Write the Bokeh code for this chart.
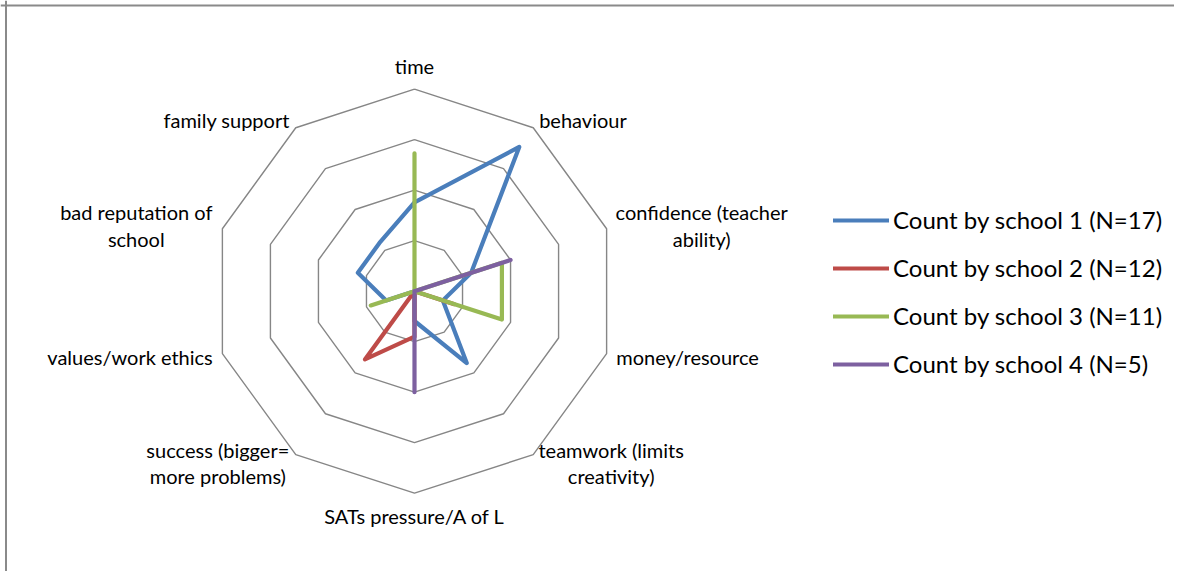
import math
from bokeh.plotting import figure
from bokeh.models import Range1d, Span, Legend, LegendItem
from bokeh.core.properties import value
from bokeh.embed import file_html
from bokeh.resources import INLINE

# ---- data (percent of respondents per school) ----
categories = [
    "time",
    "behaviour",
    "confidence (teacher\nability)",
    "money/resource",
    "teamwork (limits\ncreativity)",
    "SATs pressure/A of L",
    "success (bigger=\nmore problems)",
    "values/work ethics",
    "bad reputation of\nschool",
    "family support",
]
series_names = [
    "Count by school 1 (N=17)",
    "Count by school 2 (N=12)",
    "Count by school 3 (N=11)",
    "Count by school 4 (N=5)",
]
school1 = [17.6, 35.3, 11.8, 5.9, 17.6, 5.9, 0.0, 5.9, 11.8, 11.8]
school2 = [0.0, 0.0, 0.0, 8.3, 0.0, 9.0, 16.7, 0.0, 0.0, 0.0]
school3 = [27.3, 0.0, 18.2, 18.2, 0.0, 0.0, 0.0, 9.1, 0.0, 0.0]
school4 = [0.0, 0.0, 20.0, 0.0, 0.0, 20.0, 0.0, 0.0, 0.0, 0.0]
ring_levels = [10, 20, 30, 40]

# ---- styling / layout ----
colors = ["#4A7EBB", "#BE4B48", "#98B954", "#7D60A0"]
FONT = "Lato"
PX = 5.05            # pixels per data unit
CX, CY = 414, 290.7  # chart centre within the figure
W, H = 1174, 571

p = figure(width=W, height=H, output_backend="svg", toolbar_location=None,
           x_range=Range1d((0 - CX) / PX, (W - CX) / PX),
           y_range=Range1d((CY - H) / PX, CY / PX),
           min_border=0)
p.axis.visible = False
p.grid.visible = False
p.outline_line_color = None
p.background_fill_color = "white"
p.border_fill_color = "white"

# chart-area border (left and top visible)
p.add_layout(Span(location=(5.5 - CX) / PX, dimension="height",
                  line_color="#8a8a8a", line_width=2))
p.add_layout(Span(location=(CY - 5) / PX, dimension="width",
                  line_color="#8a8a8a", line_width=2))

n = len(categories)
angles = [2 * math.pi * i / n for i in range(n)]

# rings
for lvl in ring_levels:
    xs = [lvl * math.sin(a) for a in angles]
    ys = [lvl * math.cos(a) for a in angles]
    xs.append(xs[0]); ys.append(ys[0])
    p.line(xs, ys, line_color="#868686", line_width=1.4)

# series
renderers = []
for vals, col in zip([school1, school2, school3, school4], colors):
    xs = [v * math.sin(a) for v, a in zip(vals, angles)]
    ys = [v * math.cos(a) for v, a in zip(vals, angles)]
    xs.append(xs[0]); ys.append(ys[0])
    r = p.line(xs, ys, line_color=col, line_width=4.2,
               line_join="round", line_cap="round")
    renderers.append(r)

# category labels
R = ring_levels[-1]
CHAR_W = 9.0 / PX
LINE_H = 26.5 / PX
groups = {"left": ([], [], []), "right": ([], [], []), "center": ([], [], [])}
for cat, a in zip(categories, angles):
    s, c = math.sin(a), math.cos(a)
    lines = cat.split("\n")
    if abs(s) < 0.1:
        pad = 4.6
        ax, ay = (R + pad) * s, (R + pad) * c
        g = groups["center"]
        g[0].append(ax); g[1].append(ay); g[2].append(cat)
        continue
    pad = 2.0
    ax, ay = (R + pad) * s, (R + pad) * c
    if len(lines) == 1:
        g = groups["left"] if s > 0 else groups["right"]
        g[0].append(ax); g[1].append(ay); g[2].append(cat)
    else:
        half = max(len(l) for l in lines) * CHAR_W / 2
        bx = ax + half if s > 0 else ax - half
        top = ay + LINE_H * (len(lines) - 1) / 2
        for k, l in enumerate(lines):
            g = groups["center"]
            g[0].append(bx); g[1].append(top - k * LINE_H); g[2].append(l)

for align, (gx, gy, gt) in groups.items():
    if gx:
        p.text(x=gx, y=gy, text=gt, text_font=value(FONT), text_font_size="20px",
               text_align=align, text_baseline="middle", text_color="black")

legend = Legend(items=[LegendItem(label=nm, renderers=[r])
                       for nm, r in zip(series_names, renderers)],
                location=(833, 193), glyph_width=56, glyph_height=20,
                label_height=20, spacing=19, padding=0, margin=0,
                label_standoff=4, border_line_color=None,
                background_fill_alpha=0, label_text_font=FONT,
                label_text_font_size="24px", label_text_color="black")
p.add_layout(legend)

open("out.html", "w").write(file_html(p, INLINE))
